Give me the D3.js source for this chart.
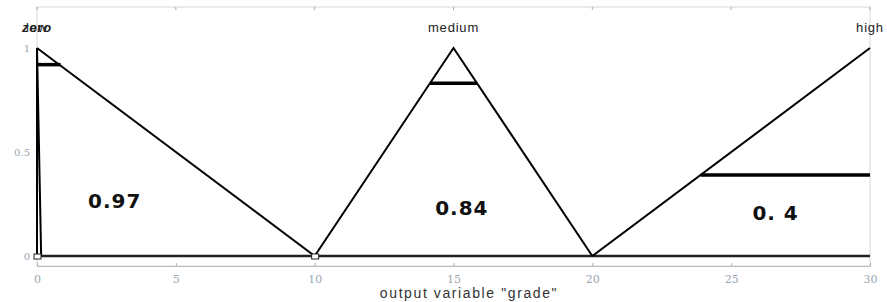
<!DOCTYPE html>
<html>
<head>
<meta charset="utf-8">
<script src="https://cdn.jsdelivr.net/npm/d3@7"></script>
<style>
  body { margin: 0; background: #fff; }
  svg { display: block; }
</style>
</head>
<body>
<svg class="chart" width="887" height="302"></svg>
<script>
// membership functions of the output variable
var mfNames = ["zero", "low", "medium", "high"];
var mfX = [[0, 0, 0.15], [0, 10], [10, 15, 20], [20, 30]];
var mfY = [[0, 1, 0], [1, 0], [0, 1, 0], [0, 1]];
var mfLabelX = [0, 0, 15, 30];

// clipped levels (thick horizontal bars)
var cutLevel = [0.92, 0.83, 0.39];
var cutFrom = [0, 14.15, 23.9];
var cutTo = [0.85, 15.85, 30];

// big value labels
var valText = ["0.97", "0.84", "0. 4"];
var valX = [2.8, 15.3, 26.6];
var valY = [0.23, 0.197, 0.173];

var xTicks = [0, 5, 10, 15, 20, 25, 30];
var yTicks = [0, 0.5, 1];
var yTickText = ["0", "0.5", "1"];

var width = 887, height = 302;
var box = {left: 37, right: 870, top: 7, bottom: 266};

var x = d3.scaleLinear().domain([0, 30]).range([37, 870]);
var y = d3.scaleLinear().domain([0, 1]).range([256, 48]);

var svg = d3.select('.chart');

// frame
svg.append('rect')
  .attr('x', box.left).attr('y', box.top)
  .attr('width', box.right - box.left).attr('height', box.bottom - box.top)
  .style('fill', 'none').style('stroke', '#d6d6d6').style('stroke-width', 1);

// x axis at bottom, ticks pointing in
var xAxis = d3.axisBottom(x).tickValues(xTicks).tickSize(-3).tickSizeOuter(0).tickPadding(9);
svg.append('g')
  .attr('class', 'x-axis')
  .attr('transform', `translate(0,${box.bottom})`)
  .call(xAxis)
  .call(g => g.select('.domain').style('stroke', '#bbb'))
  .call(g => g.selectAll('.tick line').style('stroke', '#aaa'))
  .call(g => g.selectAll('text')
    .style('fill', '#9aa6b2').style('font-family', 'DejaVu Serif').style('font-size', '11px'));

// small ticks at top
svg.append('g')
  .selectAll('line')
  .data(xTicks)
  .join('line')
  .attr('x1', d => x(d)).attr('x2', d => x(d))
  .attr('y1', box.top).attr('y2', box.top + 3)
  .style('stroke', '#aaa');

// y tick labels
svg.append('g')
  .selectAll('text')
  .data(yTicks)
  .join('text')
  .attr('x', 30)
  .attr('y', d => y(d))
  .attr('dy', '0.35em')
  .attr('text-anchor', 'end')
  .style('fill', '#9aa6b2').style('font-family', 'DejaVu Serif').style('font-size', '10px')
  .text((d, i) => yTickText[i]);

// x axis title
svg.append('text')
  .attr('x', 469).attr('y', 298)
  .attr('text-anchor', 'middle')
  .style('fill', '#333').style('font-family', 'Liberation Sans').style('font-size', '14px')
  .style('letter-spacing', '1.6px')
  .text('output variable "grade"');

// baseline
svg.append('line')
  .attr('x1', x(0)).attr('x2', x(30))
  .attr('y1', y(0)).attr('y2', y(0))
  .style('stroke', '#222').style('stroke-width', 2.5);

// membership functions
var line = d3.line().x(d => x(d[0])).y(d => y(d[1]));
svg.append('g')
  .selectAll('path')
  .data(mfNames)
  .join('path')
  .attr('d', (d, i) => line(mfX[i].map((v, j) => [v, mfY[i][j]])))
  .style('fill', 'none').style('stroke', '#000').style('stroke-width', 2);

// small squares at the base
svg.append('g')
  .selectAll('rect')
  .data([0, 10])
  .join('rect')
  .attr('x', d => x(d) - 3).attr('y', y(0) - 2)
  .attr('width', 7).attr('height', 5)
  .style('fill', '#fff').style('stroke', '#222').style('stroke-width', 1);

// clipped levels
svg.append('g')
  .selectAll('line')
  .data(cutLevel)
  .join('line')
  .attr('x1', (d, i) => x(cutFrom[i])).attr('x2', (d, i) => x(cutTo[i]))
  .attr('y1', d => y(d)).attr('y2', d => y(d))
  .style('stroke', '#000').style('stroke-width', 3.5);

// mf names (zero and low sit on top of each other, as in the original)
svg.append('g')
  .selectAll('text')
  .data(mfNames)
  .join('text')
  .attr('x', (d, i) => x(mfLabelX[i]))
  .attr('y', 32)
  .attr('text-anchor', 'middle')
  .style('fill', '#222').style('font-family', 'Liberation Sans').style('font-size', '13px')
  .style('letter-spacing', '0.8px')
  .style('font-style', d => d == 'zero' ? 'italic' : 'normal')
  .style('font-weight', d => d == 'zero' ? 'bold' : 'normal')
  .text(d => d);

// value labels
svg.append('g')
  .selectAll('text')
  .data(valText)
  .join('text')
  .attr('x', (d, i) => x(valX[i]))
  .attr('y', (d, i) => y(valY[i]))
  .attr('text-anchor', 'middle')
  .style('fill', '#111').style('font-family', 'DejaVu Sans').style('font-weight', 'bold').style('font-size', '20px')
  .style('letter-spacing', '1px')
  .text(d => d);
</script>
</body>
</html>
